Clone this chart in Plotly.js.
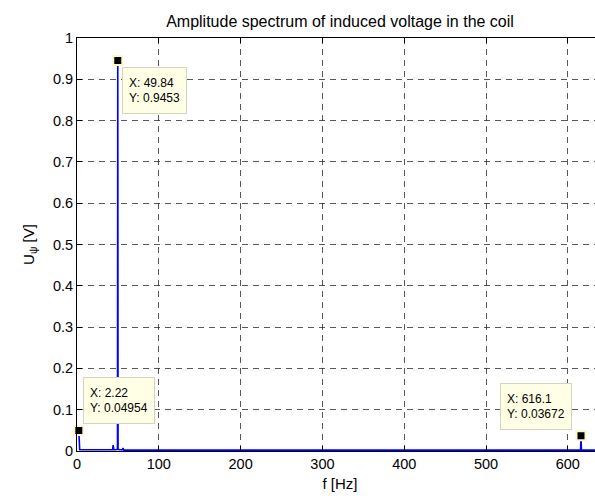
<!DOCTYPE html>
<html>
<head>
<meta charset="utf-8">
<script src="https://cdn.plot.ly/plotly-3.0.1.min.js"></script>
<style>
  html, body { margin: 0; padding: 0; overflow: hidden; background: #fff; }
  #chart { width: 610px; height: 496px; }
</style>
</head>
<body>
<div id="chart"></div>
<script>
// Spectrum samples (f in Hz, amplitude in V)
const freq = [0, 2.22, 3.3, 8, 20, 40, 43.5, 44.2, 45, 47, 49.5, 49.84, 50.2, 52, 55.5, 56.3, 57.2, 70, 150, 300, 450, 600, 612, 615.6, 616.1, 616.6, 620, 643];
const amp  = [0.046, 0.04954, 0.003, 0.003, 0.002, 0.002, 0.003, 0.014, 0.003, 0.003, 0.004, 0.9453, 0.004, 0.003, 0.003, 0.007, 0.002, 0.002, 0.002, 0.002, 0.002, 0.002, 0.002, 0.002, 0.03672, 0.002, 0.002, 0.002];

// Data cursors
const tipX = [49.84, 2.22, 616.1];
const tipY = [0.9453, 0.04954, 0.03672];
const tipLabelX = ["49.84", "2.22", "616.1"];
const tipLabelY = ["0.9453", "0.04954", "0.03672"];

const xTicks = [0, 100, 200, 300, 400, 500, 600];
const yTicks = [0, 0.1, 0.2, 0.3, 0.4, 0.5, 0.6, 0.7, 0.8, 0.9, 1];

const font = "Liberation Sans, Arial, Helvetica, sans-serif";

const traces = [
  {
    x: freq, y: amp, type: "scatter", mode: "lines",
    line: { color: "#0000ff", width: 1.6 },
    hoverinfo: "skip"
  },
  {
    x: tipX, y: tipY, type: "scatter", mode: "markers",
    marker: { symbol: "square", size: 9, color: "#000000", line: { color: "#fbf7c8", width: 2 } },
    hoverinfo: "skip", cliponaxis: false
  }
];

// placement of each tip box relative to its point
const tipPlace = [
  { xanchor: "left", yanchor: "top", xshift: 4, yshift: -6 },
  { xanchor: "left", yanchor: "bottom", xshift: 4, yshift: 7 },
  { xanchor: "right", yanchor: "bottom", xshift: -9, yshift: 6 }
];

const annotations = tipX.map((x, i) => Object.assign({
  x: x, y: tipY[i], xref: "x", yref: "y",
  text: "X: " + tipLabelX[i] + "<br>Y: " + tipLabelY[i],
  showarrow: false, align: "left", valign: "middle", height: 33,
  bgcolor: "#ffffe6", bordercolor: "#d4d4c0", borderwidth: 1, borderpad: 6,
  font: { family: font, size: 12, color: "#000" }
}, tipPlace[i]));

const gridStyle = { gridcolor: "#2e2e2e", gridwidth: 0.8, griddash: "6px,5px" };

const layout = {
  width: 610, height: 496,
  margin: { l: 77, r: 7, t: 38, b: 45 },
  paper_bgcolor: "#ffffff", plot_bgcolor: "#ffffff",
  showlegend: false,
  font: { family: font, size: 14, color: "#000" },
  title: {
    text: "Amplitude spectrum of induced voltage in the coil",
    font: { family: font, size: 16, color: "#000" },
    x: 0.5, xref: "paper", y: 1 - 21 / 496, yref: "container", yanchor: "middle"
  },
  xaxis: Object.assign({
    range: [0, 643], tickvals: xTicks, ticktext: xTicks.map(String),
    showgrid: true, zeroline: false,
    showline: true, linecolor: "#000", linewidth: 1, mirror: "ticks",
    ticks: "inside", ticklen: 5, tickcolor: "#000",
    tickfont: { family: font, size: 14.5 },
    title: { text: "f [Hz]", font: { family: font, size: 15 }, standoff: 7 }
  }, gridStyle),
  yaxis: Object.assign({
    range: [0, 1], tickvals: yTicks, ticktext: yTicks.map(String),
    showgrid: true, zeroline: false,
    showline: true, linecolor: "#000", linewidth: 1, mirror: "ticks",
    ticks: "inside", ticklen: 5, tickcolor: "#000",
    tickfont: { family: font, size: 14.5 },
    title: { text: "U<sub>ψ</sub> [V]", font: { family: font, size: 15 }, standoff: 14 }
  }, gridStyle),
  annotations: annotations
};

Plotly.newPlot("chart", traces, layout, { staticPlot: true, displayModeBar: false });
</script>
</body>
</html>
